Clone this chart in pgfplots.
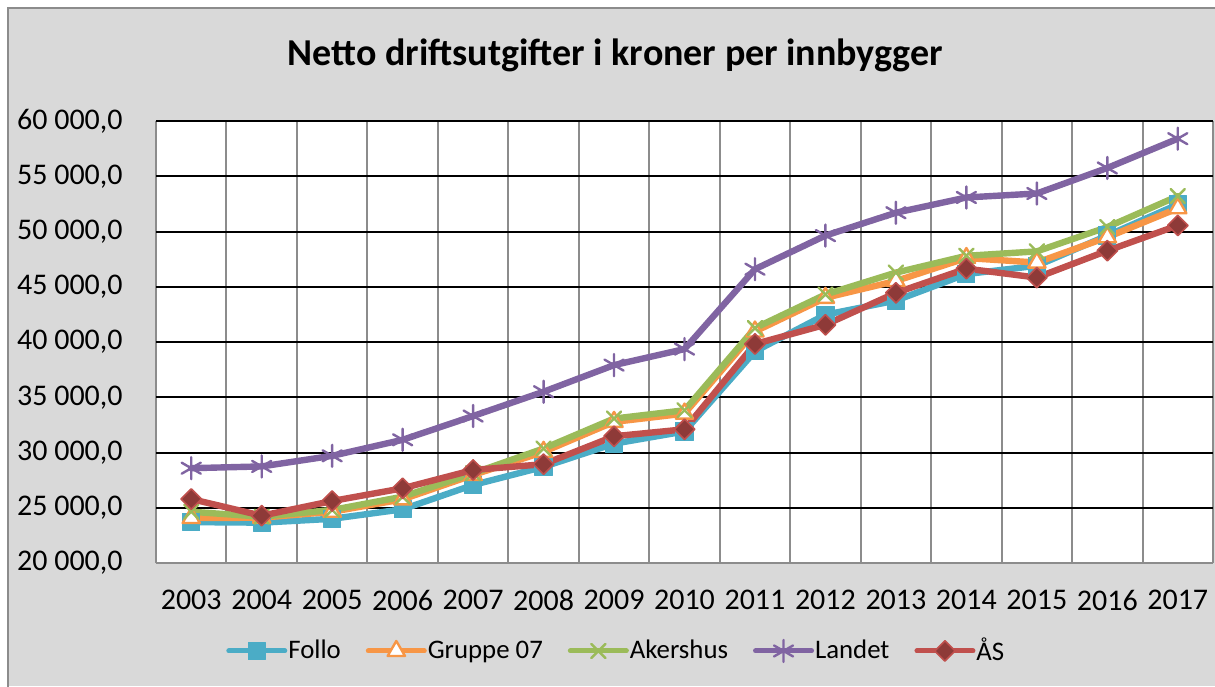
\documentclass[border=0pt]{standalone}
\usepackage{pgfplots}
\pgfplotsset{compat=1.18}
\usepackage{fontspec}
\setmainfont{Carlito}
\definecolor{bg}{HTML}{D9D9D9}
\definecolor{gridgray}{HTML}{8C8C8C}
\definecolor{follo}{HTML}{4BACC6}
\definecolor{gruppe}{HTML}{F79646}
\definecolor{akershus}{HTML}{9BBB59}
\definecolor{landet}{HTML}{8064A2}
\definecolor{aas}{HTML}{C0504D}
\definecolor{aasdark}{HTML}{8E3A38}
\begin{document}
\begin{tikzpicture}
\useasboundingbox (0pt,0pt) rectangle (607.5pt,343pt);
\fill[white] (0pt,0pt) rectangle (607.5pt,343pt);
\fill[bg] (4pt,0pt) rectangle (607.5pt,339pt);
\draw[gridgray, line width=0.8pt] (4pt,-2pt) -- (4pt,339pt) -- (610pt,339pt);
\node[font=\bfseries\fontsize{19}{23}\selectfont, inner sep=0pt] at (307.75pt,315.5pt) {Netto driftsutgifter i kroner per innbygger};
\begin{axis}[
  at={(78pt,61.5pt)}, anchor=south west,
  width=528.5pt, height=221pt, scale only axis,
  axis background/.style={fill=white},
  xmin=-0.5, xmax=14.5, ymin=20000, ymax=60000,
  xtick={0,...,14},
  xticklabels={2003,2004,2005,2006,2007,2008,2009,2010,2011,2012,2013,2014,2015,2016,2017},
  minor xtick={-0.5,0.5,...,14.5},
  xminorgrids=true,
  minor grid style={gridgray, line width=1pt},
  ymajorgrids=true,
  major grid style={black, line width=1pt},
  ytick={25000,30000,35000,40000,45000,50000,55000,60000},
  extra y ticks={20000},
  extra y tick style={major grid style={gridgray, line width=1pt}},
  major tick length=0pt, minor tick length=0pt,
  tick style={draw=none},
  axis line style={draw=none},
  scaled y ticks=false,
  y tick label style={/pgf/number format/.cd, fixed, fixed zerofill, precision=1, use comma, 1000 sep={\ }, assume math mode=true, /tikz/.cd, font=\fontsize{15}{18}\selectfont, anchor=east, inner sep=0pt, xshift=-16.5pt},
  x tick label style={font=\fontsize{15}{18}\selectfont, anchor=north, inner sep=0pt, yshift=-13.5pt},
  legend columns=5,
  legend cell align=left,
  legend style={at={(0.435,-0.199)}, anchor=center, draw=none, fill=none, font=\fontsize{13.4}{16}\selectfont, /tikz/every even column/.append style={column sep=12pt}, inner sep=0pt, nodes={inner sep=0.5pt}},
  legend image code/.code={\draw[line width=2.5pt, mark repeat=2, mark phase=2] plot coordinates {(0pt,0pt) (14pt,0pt) (28pt,0pt)};},
  every axis plot/.append style={line width=3.2pt, line join=round, line cap=round},
]
\addplot[follo, mark=square*, mark size=4.3pt, mark options={fill=follo, draw=follo, line width=0.5pt}] coordinates {
(0,23700) (1,23650) (2,24000) (3,24860) (4,27060) (5,28700) (6,30800) (7,31900) (8,39150) (9,42470) (10,43750) (11,46150) (12,46900) (13,49630) (14,52450)};
\addlegendentry{Follo}
\addplot[gruppe, mark=triangle*, mark size=5pt, mark options={fill=white, draw=gruppe, line width=1.2pt}] coordinates {
(0,24070) (1,24100) (2,24640) (3,25760) (4,27960) (5,30060) (6,32770) (7,33520) (8,40950) (9,44000) (10,45520) (11,47600) (12,47190) (13,49480) (14,52100)};
\addlegendentry{Gruppe 07}
\addplot[akershus, mark=x, mark size=5pt, mark options={line width=1.2pt}] coordinates {
(0,24640) (1,24190) (2,24800) (3,26000) (4,28120) (5,30360) (6,33070) (7,33820) (8,41260) (9,44300) (10,46280) (11,47800) (12,48200) (13,50400) (14,53200)};
\addlegendentry{Akershus}
\addplot[landet, mark=asterisk, mark size=5.5pt, mark options={line width=1.2pt}] coordinates {
(0,28580) (1,28740) (2,29700) (3,31150) (4,33300) (5,35500) (6,37910) (7,39360) (8,46590) (9,49630) (10,51700) (11,53080) (12,53440) (13,55750) (14,58400)};
\addlegendentry{Landet}
\addplot[aas, mark=square*, mark size=3.6pt, mark options={rotate=45, fill=aasdark, draw=aas, line width=0.8pt}] coordinates {
(0,25790) (1,24280) (2,25610) (3,26760) (4,28420) (5,28940) (6,31470) (7,32100) (8,39820) (9,41560) (10,44450) (11,46640) (12,45830) (13,48260) (14,50550)};
\addlegendentry{ÅS}
\end{axis}
\end{tikzpicture}
\end{document}
